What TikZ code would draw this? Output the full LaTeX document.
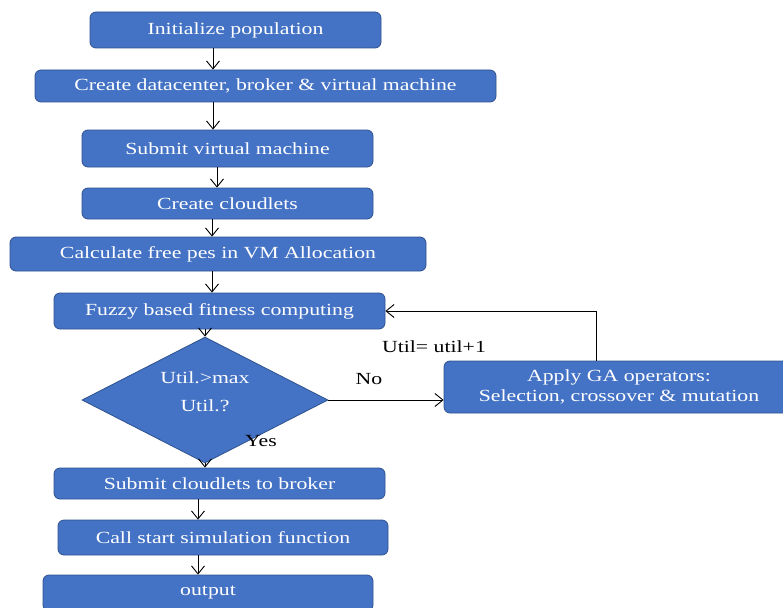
\documentclass[tikz,border=0pt]{standalone}
\usepackage{fontspec}
\setmainfont{Liberation Serif}[FakeStretch=1.28]
\usetikzlibrary{shapes.geometric,arrows.meta}
\definecolor{boxblue}{HTML}{4472C4}
\definecolor{boxline}{HTML}{2F528F}
\tikzset{
    procbox/.style={draw=boxline, fill=boxblue, text=white, rounded corners=6pt, line width=0.8pt, inner sep=0pt, align=center, font=\fontsize{17}{20}\selectfont},
    decision/.style={diamond, draw=boxline, fill=boxblue, line width=0.8pt, inner sep=0pt, minimum width=246pt, minimum height=126pt},
    flow/.style={-{Straight Barb[length=8pt,width=13pt]}, line width=0.9pt},
    lbl/.style={font=\fontsize{17}{20}\selectfont}
}

\begin{document}
\begin{tikzpicture}[x=1pt, y=-1pt]
    \useasboundingbox (0,0) rectangle (783,607);
    \node[procbox, minimum width=291pt, minimum height=36pt] (init) at (235.5,30) {Initialize population};
    \node[procbox, minimum width=461pt, minimum height=32pt] (dc) at (265.5,86) {Create datacenter, broker \& virtual machine};
    \node[procbox, minimum width=291pt, minimum height=37pt] (vm) at (227.5,148.5) {Submit virtual machine};
    \node[procbox, minimum width=291pt, minimum height=31pt] (cl) at (227.5,203.5) {Create cloudlets};
    \node[procbox, minimum width=416pt, minimum height=34pt] (pes) at (218,254) {Calculate free pes in VM Allocation};
    \node[procbox, minimum width=331pt, minimum height=36pt] (fz) at (219.5,311) {Fuzzy based fitness computing};
    \node[decision] (cond) at (205,400) {};
    \node[lbl, text=white, align=center] (condtxt) at ([yshift=8pt]cond.center) {Util.>max\\[8pt]Util.?};
    \node[procbox, minimum width=350pt, minimum height=52pt] (ga) at (619,387) {Apply GA operators:\\Selection, crossover \& mutation};
    \node[procbox, minimum width=331pt, minimum height=31pt] (sub) at (219.5,483.5) {Submit cloudlets to broker};
    \node[procbox, minimum width=330pt, minimum height=35pt] (call) at (223,537.5) {Call start simulation function};
    \node[procbox, minimum width=330pt, minimum height=36pt] (out) at (208,593) {output};
    \node[lbl] (upd) at (434,347) {Util= util+1};
    \node[lbl] (no) at (369,379) {No};
    \node[lbl] (yes) at (261,441) {Yes};

    \draw[flow] ([xshift=-22.5pt]init.south) -- ([xshift=-22.5pt]init.south |- dc.north);
    \draw[flow] ([xshift=-52.5pt]dc.south) -- ([xshift=-52.5pt]dc.south |- vm.north);
    \draw[flow] ([xshift=-10.5pt]vm.south) -- ([xshift=-10.5pt]vm.south |- cl.north);
    \draw[flow] ([xshift=-15.5pt]cl.south) -- ([xshift=-15.5pt]cl.south |- pes.north);
    \draw[flow] ([xshift=-6pt]pes.south) -- ([xshift=-6pt]pes.south |- fz.north);
    \draw[flow] ([xshift=-14.5pt]fz.south) -- (cond.north);
    \draw[flow] (cond.east) -- (cond.east -| ga.west);
    \draw[flow] ([xshift=-23pt]ga.north) |- (fz.east);
    \draw[flow] (cond.south) -- (cond.south |- sub.north);
    \draw[flow] ([xshift=-21.5pt]sub.south) -- ([xshift=-21.5pt]sub.south |- call.north);
    \draw[flow] ([xshift=-25pt]call.south) -- ([xshift=-25pt]call.south |- out.north);
\end{tikzpicture}
\end{document}
